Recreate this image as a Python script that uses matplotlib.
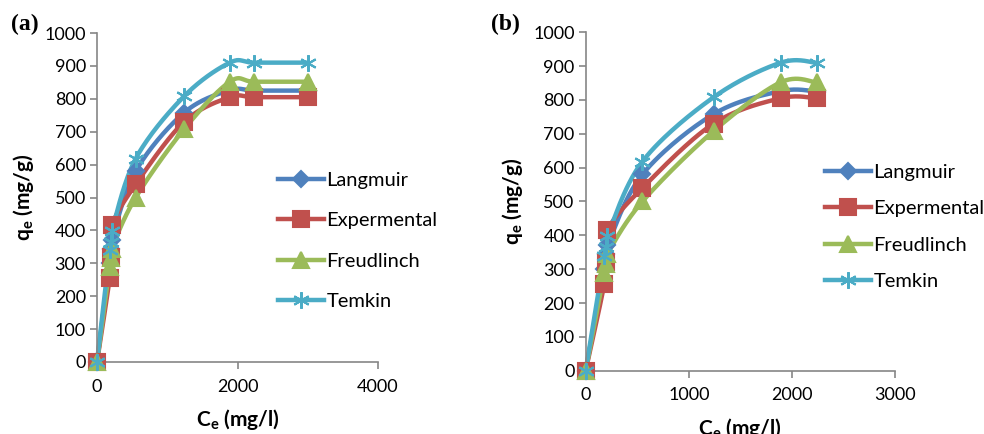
import numpy as np
import matplotlib
matplotlib.use("Agg")
import matplotlib.pyplot as plt

# Ce (mg/l) for each panel
ce_a = [0, 180, 195, 210, 550, 1240, 1890, 2240, 3000]
ce_b = [0, 180, 195, 210, 550, 1240, 1890, 2240]

# qe (mg/g), panel (a); panel (b) uses the first 8 values
langmuir = [0, 300, 345, 370, 580, 758, 826, 825, 825]
expermental = [0, 255, 320, 415, 540, 730, 805, 805, 805]
freudlinch = [0, 290, 315, 345, 500, 708, 852, 852, 852]
temkin = [0, 340, 365, 398, 618, 808, 910, 910, 910]

names = ["Langmuir", "Expermental", "Freudlinch", "Temkin"]
colors = ["#4F81BD", "#C0504D", "#9BBB59", "#4BACC6"]
markers = ["D", "s", "^", (6, 2, 0)]
msizes = [8, 11, 11, 12]

FONT = ["Lato", "DejaVu Sans"]
plt.rcParams["font.family"] = FONT


def smooth(x, y, n=30):
    # Excel-style smoothed line (Catmull-Rom as cubic Bezier)
    p = np.column_stack([x, y]).astype(float)
    p_ext = np.vstack([p[0], p, p[-1]])
    out = [p[0]]
    t = np.linspace(0, 1, n)[1:, None]
    for i in range(len(p) - 1):
        p0, p1, p2, p3 = p_ext[i], p_ext[i + 1], p_ext[i + 2], p_ext[i + 3]
        c1 = p1 + (p2 - p0) / 6
        c2 = p2 - (p3 - p1) / 6
        seg = ((1 - t) ** 3) * p1 + 3 * ((1 - t) ** 2) * t * c1 + 3 * (1 - t) * t**2 * c2 + t**3 * p2
        out.extend(seg)
    out = np.array(out)
    return out[:, 0], out[:, 1]


def panel(ax, ce, series, xmax, xstep, label, label_x, leg_anchor, leg_space):
    handles = []
    for vals, name, c, m, ms in zip(series, names, colors, markers, msizes):
        sx, sy = smooth(ce, vals)
        ax.plot(sx, sy, color=c, lw=3.2, clip_on=False, zorder=2)
        ax.plot(ce, vals, ls="none", marker=m, color=c, ms=ms, mec=c,
                mew=1.5, clip_on=False, zorder=3)
        h, = ax.plot([], [], color=c, lw=3.2, marker=m, ms=ms, mec=c, mew=1.5)
        handles.append(h)
    ax.set_xlim(0, xmax)
    ax.set_ylim(0, 1000)
    ax.set_xticks(np.arange(0, xmax + 1, xstep))
    ax.set_yticks(np.arange(0, 1001, 100))
    for s in ["top", "right"]:
        ax.spines[s].set_visible(False)
    for s in ["left", "bottom"]:
        ax.spines[s].set_color("#868686")
        ax.spines[s].set_linewidth(1.2)
    ax.tick_params(colors="#868686", labelcolor="black", labelsize=13,
                   length=5, width=1.2, direction="out")
    ax.tick_params(axis="x", pad=7)
    ax.tick_params(axis="y", pad=3)
    ax.set_xlabel("C$_\\mathregular{e}$ (mg/l)", fontsize=15, fontweight="bold", labelpad=9)
    ax.set_ylabel("q$_\\mathregular{e}$ (mg/g)", fontsize=15, fontweight="bold", labelpad=6)
    ax.figure.text(label_x, 1 - 24 / 434, label, fontsize=17, fontweight="bold",
                   family="Liberation Serif", ha="left", va="center")
    ax.legend(handles, names, loc="upper left", bbox_to_anchor=leg_anchor,
              bbox_transform=ax.figure.transFigure, frameon=False, fontsize=14.5,
              handlelength=2.3, handletextpad=0.1, labelspacing=leg_space,
              borderaxespad=0, borderpad=0)


fig = plt.figure(figsize=(9.84, 4.34), dpi=100)
ax_a = fig.add_axes([0.0986, 0.1659, 0.2856, 0.758])
ax_b = fig.add_axes([0.5952, 0.1459, 0.3143, 0.7797])

panel(ax_a, ce_a, [langmuir, expermental, freudlinch, temkin], 4000, 2000,
      "(a)", 11 / 984, (278 / 984, 1 - 172 / 434), 1.15)
panel(ax_b, ce_b, [langmuir[:8], expermental[:8], freudlinch[:8], temkin[:8]],
      3000, 1000, "(b)", 491 / 984, (825 / 984, 1 - 164 / 434), 0.95)

fig.savefig("out.png", dpi=100)
